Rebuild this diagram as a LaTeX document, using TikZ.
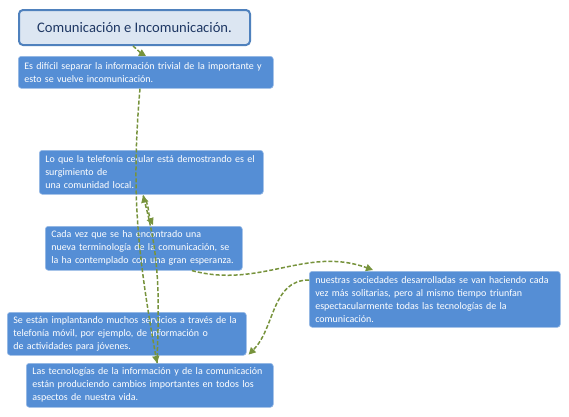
\documentclass[tikz,border=0pt]{standalone}
\usepackage{fontspec}
\setmainfont{Carlito}
\usetikzlibrary{arrows.meta}
\definecolor{boxblue}{HTML}{558ED5}
\definecolor{titlefill}{HTML}{DCE6F2}
\definecolor{titleborder}{HTML}{4F81BD}
\definecolor{titletext}{HTML}{1F3864}
\definecolor{linkgreen}{HTML}{77933C}
\tikzset{
  textbox/.style={draw=boxblue!60!white, line width=0.6pt, fill=boxblue, rounded corners=3pt,
    anchor=north west, align=left, inner xsep=6pt, inner ysep=2pt, text=white,
    font=\fontsize{10}{13}\selectfont},
  titlebox/.style={draw=titleborder, line width=2pt, fill=titlefill, rounded corners=4pt,
    anchor=north west, align=center, text=titletext, font=\fontsize{14.6}{16}\selectfont},
  link/.style={draw=linkgreen, line width=1.5pt, dash pattern=on 4pt off 2pt,
    -{Triangle[length=7pt,width=7pt]}}
}
\begin{document}
\begin{tikzpicture}[x=1pt,y=-1pt]
\useasboundingbox (0,0) rectangle (569,416);
\fill[white] (0,0) rectangle (569,416);
\node[titlebox, minimum width=231pt, minimum height=35pt] (t) at (18,9) {Comunicación e Incomunicación.};
\node[textbox, text width=243pt, minimum height=32pt] (a) at (18,56) {Es difícil separar la información trivial de la importante y\\esto se vuelve incomunicación.};
\node[textbox, text width=212pt, minimum height=44pt] (b) at (39,150) {Lo que la telefonía celular está demostrando es el\\surgimiento de\\una comunidad local.};
\node[textbox, text width=185pt, minimum height=44pt] (c) at (45,226) {Cada vez que se ha encontrado una\\nueva terminología de la comunicación, se\\la ha contemplado con una gran esperanza.};
\node[textbox, text width=239pt, minimum height=56pt] (d) at (309,271) {nuestras sociedades desarrolladas se van haciendo cada\\vez más solitarias, pero al mismo tiempo triunfan\\espectacularmente todas las tecnologías de la\\comunicación.};
\node[textbox, text width=227pt, minimum height=43pt] (e) at (7,312) {Se están implantando muchos servicios a través de la\\telefonía móvil, por ejemplo, de información o\\de actividades para jóvenes.};
\node[textbox, text width=235pt, minimum height=44pt] (f) at (26,363) {Las tecnologías de la información y de la comunicación\\están produciendo cambios importantes en todos los\\aspectos de nuestra vida.};
% connectors
\draw[link] ([xshift=115pt]t.south west) to[out=-40, in=150] ([xshift=128pt]a.north west);
\draw[link] ([xshift=122pt]a.south west) to[out=-95, in=100] ([xshift=131pt]f.north west);
\draw[link] ([xshift=131pt]f.north west) to[out=88, in=-75] ([xshift=104pt,yshift=-1pt]b.south west);
\draw[link] ([xshift=104pt,yshift=-1pt]b.south west) to[out=-55, in=115] ([xshift=108pt,yshift=1pt]c.north west);
\draw[link] ([xshift=147pt]c.south west) to[out=-15, in=160] ([xshift=64pt,yshift=1pt]d.north west);
\draw[link] ([yshift=-9pt]d.north west) to[out=180, in=45] ([xshift=2pt,yshift=1pt]e.south east);
\end{tikzpicture}
\end{document}
